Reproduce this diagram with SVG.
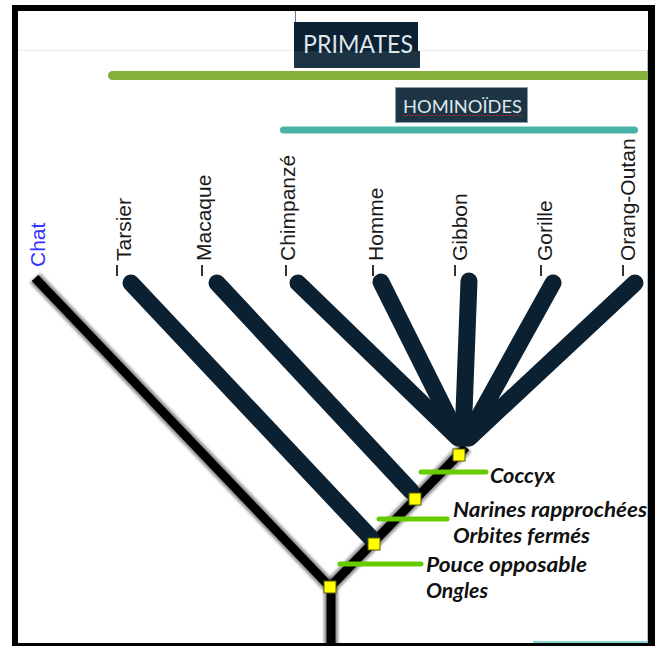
<svg xmlns="http://www.w3.org/2000/svg" width="662" height="646" viewBox="0 0 662 646">
  <defs>
    <style>
      .taxon { font-family: "Liberation Sans", Arial, sans-serif; font-size: 21px; fill: #1a1a1a; }
      .tick { stroke: #333; stroke-width: 2; }
      .navy { stroke: #0b2031; stroke-width: 17; stroke-linecap: round; fill: none; }
      .blk { stroke: #000; stroke-width: 9; stroke-linecap: butt; fill: none; }
      .blkshadow { stroke: #000; stroke-width: 14; stroke-opacity: 0.45; fill: none; }
      .node { fill: #ffff00; stroke: #5a5a00; stroke-width: 1; }
      .syn { stroke: #66cc00; stroke-width: 5; stroke-linecap: round; }
      .char { font-family: Lato, "Open Sans", sans-serif; font-weight: bold; font-style: italic; font-size: 20px; fill: #111; }
      .clade { font-family: Lato, "Open Sans", sans-serif; fill: #dfe6ea; }
    </style>
    <filter id="soft" x="-10%" y="-10%" width="120%" height="120%">
      <feGaussianBlur stdDeviation="1.6"/>
    </filter>
  </defs>

  <rect x="0" y="0" width="662" height="646" fill="#ffffff"/>

  <!-- frame -->
  <g id="frame">
    <line x1="18" y1="50.5" x2="648" y2="50.5" stroke="#ececec" stroke-width="1"/>
    <line x1="295.5" y1="11" x2="295.5" y2="23" stroke="#5f7f9f" stroke-width="1"/>
    <line x1="647.5" y1="50" x2="647.5" y2="642" stroke="#a9c3cf" stroke-width="1"/>
    <line x1="533" y1="642" x2="648" y2="642" stroke="#5fc4c8" stroke-width="1.5"/>
    <rect x="12" y="5" width="643" height="6" fill="#000"/>
    <rect x="12" y="5" width="6" height="641" fill="#000"/>
    <rect x="648" y="5" width="7" height="641" fill="#000"/>
    <rect x="12" y="643" width="643" height="3" fill="#000"/>
  </g>

  <!-- clades -->
  <g id="clade-primates">
    <rect x="294" y="22" width="124" height="29" fill="#0c2133"/>
    <rect x="294" y="51" width="126" height="17" fill="#1d3444"/>
    <text class="clade" x="303" y="53" font-size="25" textLength="110" lengthAdjust="spacingAndGlyphs">PRIMATES</text>
    <path d="M112.5 71 H648 V80 H112.5 A4.5 4.5 0 0 1 112.5 71 Z" fill="#86b03c"/>
  </g>
  <g id="clade-hominoides">
    <rect x="395.5" y="87.5" width="132" height="35" fill="#1d3444" stroke="#8c9ba6" stroke-width="1"/>
    <text class="clade" x="403" y="113" font-size="18" textLength="119" lengthAdjust="spacingAndGlyphs">HOMINOÏDES</text>
    <line x1="403" y1="115.5" x2="522" y2="115.5" stroke="#a02828" stroke-width="1" stroke-dasharray="2 1"/>
    <line x1="283.5" y1="130" x2="634.5" y2="130" stroke="#48b3a6" stroke-width="7" stroke-linecap="round"/>
  </g>

  <!-- connectors -->
  <g id="connectors">
    <g filter="url(#soft)">
      <line class="blkshadow" x1="35" y1="278" x2="330" y2="587"/>
      <line class="blkshadow" x1="330" y1="587" x2="466" y2="447"/>
      <line class="blkshadow" x1="331" y1="587" x2="331" y2="646"/>
    </g>
    <line class="blk" x1="35" y1="278" x2="330" y2="587"/>
    <line class="blk" x1="330" y1="587" x2="466" y2="447"/>
    <line class="blk" x1="331" y1="587" x2="331" y2="646" stroke-width="11"/>
    <line class="navy" x1="131" y1="283" x2="371" y2="538"/>
    <line class="navy" x1="217" y1="283" x2="411" y2="491"/>
    <line class="navy" x1="298" y1="283" x2="458" y2="438"/>
    <line class="navy" x1="381" y1="282" x2="459" y2="438"/>
    <line class="navy" x1="469" y1="281" x2="463" y2="438"/>
    <line class="navy" x1="553" y1="283" x2="467" y2="438"/>
    <line class="navy" x1="635" y1="283" x2="469" y2="438"/>
  </g>

  <!-- internal nodes -->
  <g id="node-root"><rect class="node" x="324" y="581" width="12" height="12"/></g>
  <g id="node-tarsier"><rect class="node" x="368" y="538" width="12" height="12"/></g>
  <g id="node-macaque"><rect class="node" x="409" y="493" width="12" height="12"/></g>
  <g id="node-hominoides"><rect class="node" x="453" y="449" width="12" height="12"/></g>

  <!-- synapomorphies -->
  <g id="char-pouce">
    <line class="syn" x1="340" y1="564" x2="421" y2="564"/>
    <text class="char" x="426" y="572" textLength="161" lengthAdjust="spacingAndGlyphs">Pouce opposable</text>
    <text class="char" x="426" y="598" textLength="62" lengthAdjust="spacingAndGlyphs">Ongles</text>
  </g>
  <g id="char-narines">
    <line class="syn" x1="379" y1="519" x2="447" y2="519"/>
    <text class="char" x="453" y="517" textLength="194" lengthAdjust="spacingAndGlyphs">Narines rapprochées</text>
    <text class="char" x="453" y="543" textLength="137" lengthAdjust="spacingAndGlyphs">Orbites fermés</text>
  </g>
  <g id="char-coccyx">
    <line class="syn" x1="421" y1="472" x2="486" y2="472"/>
    <text class="char" x="490" y="483" textLength="65" lengthAdjust="spacingAndGlyphs">Coccyx</text>
  </g>

  <!-- taxa -->
  <g id="taxon-chat"><text class="taxon" transform="translate(45 267) rotate(-90)" style="fill:#3434ff">Chat</text></g>
  <g id="taxon-tarsier"><line class="tick" x1="117" y1="265" x2="117" y2="276"/><text class="taxon" transform="translate(131 261) rotate(-90)">Tarsier</text></g>
  <g id="taxon-macaque"><line class="tick" x1="202" y1="265" x2="202" y2="276"/><text class="taxon" transform="translate(211 261) rotate(-90)">Macaque</text></g>
  <g id="taxon-chimpanze"><line class="tick" x1="286" y1="265" x2="286" y2="276"/><text class="taxon" transform="translate(295 261) rotate(-90)">Chimpanzé</text></g>
  <g id="taxon-homme"><line class="tick" x1="373" y1="265" x2="373" y2="276"/><text class="taxon" transform="translate(383 261) rotate(-90)">Homme</text></g>
  <g id="taxon-gibbon"><line class="tick" x1="455" y1="265" x2="455" y2="276"/><text class="taxon" transform="translate(467 261) rotate(-90)">Gibbon</text></g>
  <g id="taxon-gorille"><line class="tick" x1="541" y1="265" x2="541" y2="276"/><text class="taxon" transform="translate(552 261) rotate(-90)">Gorille</text></g>
  <g id="taxon-orang"><line class="tick" x1="623" y1="265" x2="623" y2="276"/><text class="taxon" transform="translate(635 261) rotate(-90)">Orang-Outan</text></g>
</svg>
